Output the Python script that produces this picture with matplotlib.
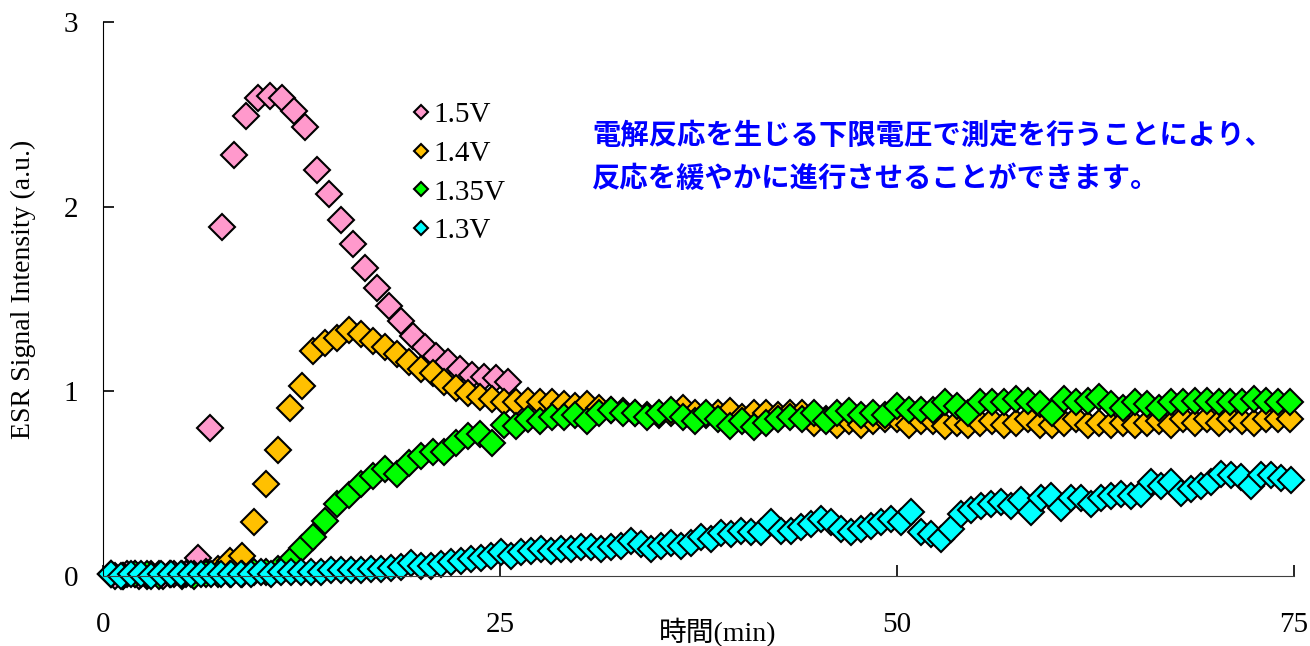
import numpy as np
import matplotlib
matplotlib.use('Agg')
import matplotlib.pyplot as plt

plt.rcParams['font.family'] = ['Liberation Serif', 'Noto Sans CJK JP']

# sampling times (min)
t_15 = 0.75 + 0.75 * np.arange(34)
t_main = 0.5 + 0.75 * np.arange(100)
t_13 = 0.5 + 0.63 * np.arange(119)

# ESR signal intensity (a.u.)
y_15 = [0.0, 0.01, 0.0, 0.01, 0.0, 0.01, 0.01,
        0.10, 0.80, 1.89, 2.28, 2.49, 2.59, 2.60, 2.59, 2.52, 2.43, 2.20, 2.07,
        1.93, 1.80, 1.67, 1.56, 1.46, 1.38, 1.30, 1.24, 1.19, 1.16, 1.12, 1.09,
        1.08, 1.07, 1.05]

y_14 = [0.01, 0.0, 0.01, 0.0, 0.01, 0.01, 0.0, 0.01, 0.02, 0.04,
        0.08, 0.11, 0.29, 0.50, 0.68, 0.91, 1.03, 1.22, 1.26, 1.29,
        1.33, 1.31, 1.27, 1.24, 1.20, 1.16, 1.12, 1.10, 1.05, 1.02,
        0.99, 0.97, 0.96, 0.94, 0.94, 0.95, 0.94, 0.94, 0.93, 0.92,
        0.93, 0.91, 0.90, 0.895, 0.88, 0.87, 0.87, 0.88, 0.91, 0.885,
        0.87, 0.88, 0.895, 0.86, 0.885, 0.88, 0.87, 0.88, 0.885, 0.83,
        0.85, 0.82, 0.84, 0.82, 0.84, 0.85, 0.85, 0.82, 0.84, 0.84,
        0.81, 0.83, 0.82, 0.83, 0.84, 0.82, 0.83, 0.85, 0.82, 0.82,
        0.83, 0.85, 0.82, 0.83, 0.82, 0.83, 0.82, 0.83, 0.84, 0.82,
        0.85, 0.83, 0.85, 0.83, 0.85, 0.84, 0.83, 0.85, 0.85, 0.85]

y_135 = [0.01, 0.0, 0.01, 0.01, 0.0, 0.01, 0.01, 0.0, 0.01, 0.01,
         0.01, 0.01, 0.02, 0.02, 0.04, 0.08, 0.15, 0.21, 0.30, 0.39,
         0.44, 0.50, 0.54, 0.58, 0.55, 0.61, 0.65, 0.67, 0.67, 0.72,
         0.76, 0.77, 0.72, 0.82, 0.81, 0.85, 0.84, 0.86, 0.86, 0.87,
         0.84, 0.885, 0.90, 0.885, 0.885, 0.86, 0.885, 0.90, 0.86, 0.84,
         0.885, 0.85, 0.81, 0.84, 0.805, 0.83, 0.85, 0.86, 0.85, 0.88,
         0.84, 0.885, 0.895, 0.87, 0.88, 0.87, 0.92, 0.90, 0.90, 0.90,
         0.94, 0.92, 0.88, 0.94, 0.94, 0.94, 0.96, 0.95, 0.93, 0.88,
         0.96, 0.94, 0.95, 0.97, 0.93, 0.91, 0.94, 0.93, 0.91, 0.94,
         0.94, 0.95, 0.95, 0.94, 0.94, 0.94, 0.96, 0.95, 0.94, 0.94]

y_13 = [0.01, 0.0, 0.01, 0.01, 0.0, 0.01, 0.01, 0.01, 0.01, 0.01,
        0.01, 0.01, 0.01, 0.01, 0.01, 0.02, 0.01, 0.02, 0.02, 0.02,
        0.02, 0.02, 0.03, 0.03, 0.03, 0.035, 0.04, 0.04, 0.045, 0.05,
        0.07, 0.055, 0.055, 0.065, 0.075, 0.083, 0.09, 0.10, 0.11, 0.13,
        0.11, 0.13, 0.137, 0.146, 0.137, 0.146, 0.146, 0.155, 0.155, 0.146,
        0.155, 0.164, 0.19, 0.173, 0.146, 0.164, 0.18, 0.16, 0.18, 0.21,
        0.20, 0.235, 0.227, 0.245, 0.236, 0.236, 0.29, 0.245, 0.245, 0.264,
        0.28, 0.31, 0.29, 0.254, 0.236, 0.254, 0.27, 0.29, 0.31, 0.29,
        0.345, 0.236, 0.227, 0.20, 0.254, 0.335, 0.36, 0.38, 0.39, 0.40,
        0.38, 0.41, 0.345, 0.42, 0.435, 0.37, 0.42, 0.42, 0.39, 0.42,
        0.435, 0.445, 0.435, 0.445, 0.51, 0.49, 0.51, 0.45, 0.47, 0.49,
        0.51, 0.55, 0.545, 0.535, 0.49, 0.545, 0.545, 0.53, 0.52]

labels = ['1.5V', '1.4V', '1.35V', '1.3V']
colors = ['#FF99CC', '#FFC000', '#00FF00', '#00FFFF']

fig = plt.figure(figsize=(13.1, 6.46), dpi=100)
ax = fig.add_axes([103 / 1310, 1 - 576 / 646, 1191 / 1310, 554 / 646])

series = [(t_15, y_15), (t_main, y_14), (t_main, y_135), (t_13, y_13)]
lines = []
for (tt, yy), lab, col in zip(series, labels, colors):
    ln, = ax.plot(tt, yy, linestyle='none', marker='D', markersize=13.4,
                  markerfacecolor=col, markeredgecolor='black',
                  markeredgewidth=1.5, label=lab, clip_on=False)
    lines.append(ln)

ax.set_xlim(0, 75)
ax.set_ylim(0, 3)
ax.set_xticks([0, 25, 50, 75])
ax.set_yticks([0, 1, 2, 3])
ax.spines['top'].set_visible(False)
ax.spines['right'].set_visible(False)
ax.spines['bottom'].set_color('#404040')
ax.tick_params(axis='both', direction='in', length=8, width=1.2, labelsize=21)
ax.tick_params(axis='x', pad=26)
ax.tick_params(axis='y', pad=18)

ax.set_xlabel('時間(min)', fontsize=20)
ax.xaxis.set_label_coords(0.516, -0.076)
ax.set_ylabel('ESR Signal Intensity (a.u.)', fontsize=20)
ax.yaxis.set_label_coords(-0.056, 0.518)

ax.legend(handles=lines, loc='upper left', bbox_to_anchor=(0.247, 0.882),
          frameon=False, fontsize=21, markerscale=0.52, handlelength=0.6,
          handletextpad=0.15, labelspacing=0.42, borderpad=0)

ax.text(0.4106, 0.820,
        '電解反応を生じる下限電圧で測定を行うことにより、\n反応を緩やかに進行させることができます。',
        transform=ax.transAxes, ha='left', va='top', color='#0000FF',
        fontsize=20.4, fontweight='bold', family=['Noto Sans CJK JP'],
        linespacing=1.67)

fig.savefig('out.png', dpi=100)
